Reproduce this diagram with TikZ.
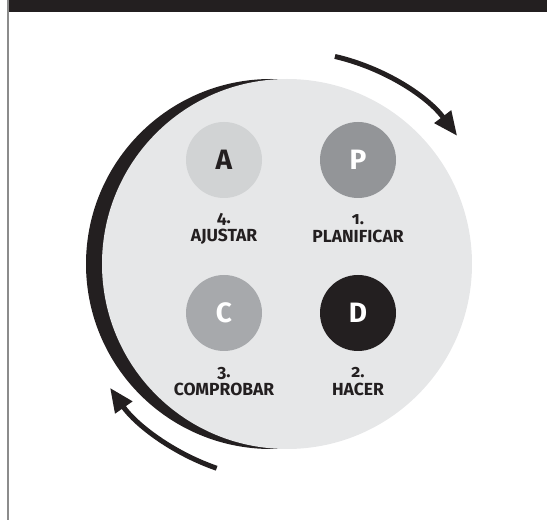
\documentclass[tikz,border=0pt]{standalone}
\usepackage{fontspec}
\setmainfont{Fira Sans}[Numbers=OldStyle]
\usetikzlibrary{arrows.meta}
\definecolor{ink}{HTML}{231F20}
\definecolor{bigc}{HTML}{E6E7E8}
\definecolor{cA}{HTML}{D1D3D4}
\definecolor{cP}{HTML}{939598}
\definecolor{cC}{HTML}{A7A9AC}
\definecolor{frameline}{HTML}{8C8C8C}
\tikzset{
  stage/.style={circle, minimum size=76pt, inner sep=0pt, font=\fontsize{28}{28}\selectfont\bfseries},
  lbl/.style={align=center, text=ink, font=\fontsize{17.5}{18}\selectfont\bfseries},
  cyclearrow/.style={draw=ink, line width=5pt, -{Triangle[length=24pt, width=20pt]}}
}
\begin{document}
\begin{tikzpicture}[x=1pt,y=1pt]
\useasboundingbox (0,0) rectangle (547,520);
% frame
\fill[ink] (7,508) rectangle (547,520);
\draw[frameline, line width=1.5pt] (7.75,0) -- (7.75,520);
% circles
\coordinate (O) at (287,256);
\coordinate (Ob) at (271,256);
\fill[ink] (Ob) circle[radius=185];
\fill[bigc] (O) circle[radius=185];
\node[stage, fill=cA, text=ink] (A) at (224,360) {A};
\node[stage, fill=cP, text=white] (P) at (358,360) {P};
\node[stage, fill=cC, text=white] (C) at (224,207) {C};
\node[stage, fill=ink, text=white] (D) at (358,207) {D};
\node[lbl] (lA) at (224,291) {4.\\AJUSTAR};
\node[lbl] (lP) at (358,291) {1.\\PLANIFICAR};
\node[lbl] (lC) at (224,138) {3.\\COMPROBAR};
\node[lbl] (lD) at (358,138) {2.\\HACER};
% arrows
\draw[cyclearrow] (O) ++(77:213) arc[start angle=77, end angle=37, radius=213];
\draw[cyclearrow] (O) ++(251:216) arc[start angle=251, end angle=215, radius=216];
\end{tikzpicture}
\end{document}
